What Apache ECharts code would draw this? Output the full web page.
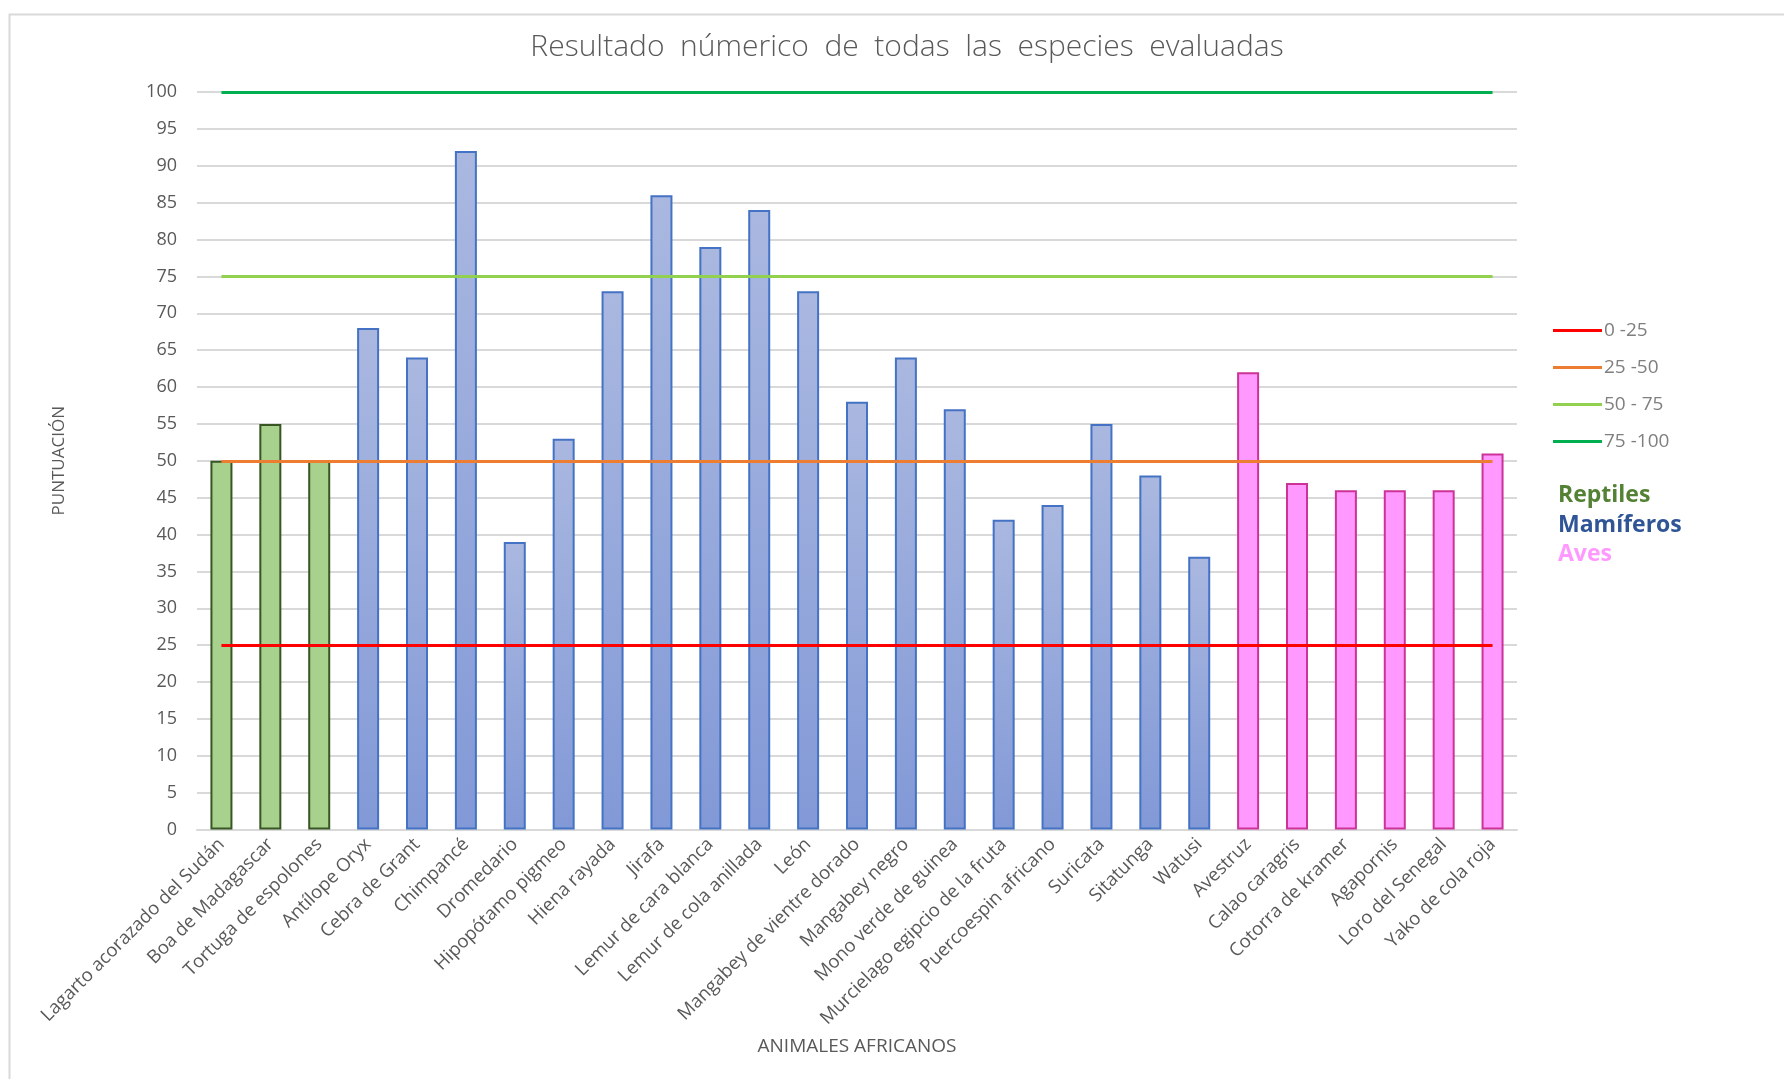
<!DOCTYPE html>
<html>
<head>
<meta charset="utf-8">
<script src="https://cdn.jsdelivr.net/npm/echarts@6/dist/echarts.min.js"></script>
<style>
  html, body { margin: 0; padding: 0; background: #fff; }
  #chart { width: 1784px; height: 1079px; }
</style>
</head>
<body>
<div id="chart"></div>
<script>
// Especies evaluadas y su puntuación
const especies = [
  'Lagarto acorazado del Sudán', 'Boa de Madagascar', 'Tortuga de espolones',
  'Antílope Oryx', 'Cebra de Grant', 'Chimpancé', 'Dromedario', 'Hipopótamo pigmeo',
  'Hiena rayada', 'Jirafa', 'Lemur de cara blanca', 'Lemur de cola anillada', 'León',
  'Mangabey de vientre dorado', 'Mangabey negro', 'Mono verde de guinea',
  'Murcielago egipcio de la fruta', 'Puercoespin africano', 'Suricata', 'Sitatunga',
  'Watusi', 'Avestruz', 'Calao caragris', 'Cotorra de kramer', 'Agapornis',
  'Loro del Senegal', 'Yako de cola roja'
];
const puntuacion = [
  50, 55, 50,
  68, 64, 92, 39, 53, 73, 86, 79, 84, 73, 58, 64, 57, 42, 44, 55, 48, 37,
  62, 47, 46, 46, 46, 51
];
const grupo = [
  'Reptiles', 'Reptiles', 'Reptiles',
  'Mamíferos', 'Mamíferos', 'Mamíferos', 'Mamíferos', 'Mamíferos', 'Mamíferos',
  'Mamíferos', 'Mamíferos', 'Mamíferos', 'Mamíferos', 'Mamíferos', 'Mamíferos',
  'Mamíferos', 'Mamíferos', 'Mamíferos', 'Mamíferos', 'Mamíferos', 'Mamíferos',
  'Aves', 'Aves', 'Aves', 'Aves', 'Aves', 'Aves'
];
// Rangos de referencia
const rangos = ['0 -25', '25 -50', '50 - 75', '75 -100'];
const limites = [25, 50, 75, 100];
const yTicks = { min: 0, max: 100, interval: 5 };

const estiloGrupo = {
  'Reptiles': {
    color: '#A9D18E', borderColor: '#375623'
  },
  'Mamíferos': {
    color: { type: 'linear', x: 0, y: 0, x2: 0, y2: 1,
      colorStops: [{ offset: 0, color: '#AAB8E0' }, { offset: 1, color: '#8299D7' }] },
    borderColor: '#4472C4'
  },
  'Aves': {
    color: '#FF99FF', borderColor: '#CC3399'
  }
};
const coloresRango = ['#FF0000', '#ED7D31', '#92D050', '#00B050'];
const coloresGrupo = { 'Reptiles': '#548235', 'Mamíferos': '#2F5597', 'Aves': '#FF99FF' };

const gris = '#595959';
const fuente = '"Open Sans", "Liberation Sans", sans-serif';

const barras = puntuacion.map((v, i) => ({
  value: v,
  itemStyle: Object.assign({ borderWidth: 2 }, estiloGrupo[grupo[i]])
}));

const lineas = rangos.map((nombre, k) => ({
  name: nombre,
  type: 'line',
  data: [],
  color: coloresRango[k],
  itemStyle: { color: coloresRango[k] },
  lineStyle: { color: coloresRango[k], width: 3 },
  markLine: {
    silent: true,
    symbol: 'none',
    label: { show: false },
    lineStyle: { color: coloresRango[k], width: 3, type: 'solid' },
    data: [[
      { coord: [especies[0], limites[k]] },
      { coord: [especies[especies.length - 1], limites[k]] }
    ]]
  },
  z: 5
}));

const nombresGrupo = ['Reptiles', 'Mamíferos', 'Aves'];
const textosGrupo = nombresGrupo.map((g, i) => ({
  type: 'text',
  left: 1558,
  top: 484 + i * 29.5,
  style: {
    text: g,
    fill: coloresGrupo[g],
    font: 'bold 23px ' + fuente
  }
}));

const chart = echarts.init(document.getElementById('chart'));
chart.setOption({
  animation: false,
  backgroundColor: '#fff',
  textStyle: { fontFamily: fuente },
  title: {
    text: 'Resultado  númerico  de  todas  las  especies  evaluadas',
    left: 902,
    top: 27,
    textAlign: 'center',
    textStyle: { fontSize: 30, fontWeight: 300, color: gris, fontFamily: fuente }
  },
  legend: {
    orient: 'vertical',
    left: 1548,
    top: 316,
    itemWidth: 49,
    itemHeight: 3,
    itemGap: 18,
    icon: 'rect',
    data: rangos,
    textStyle: { fontSize: 19, color: '#7F7F7F', padding: [0, 0, 0, -3] }
  },
  grid: { left: 197, right: 267, top: 92, bottom: 249.5 },
  xAxis: {
    type: 'category',
    data: especies,
    name: 'ANIMALES AFRICANOS',
    nameLocation: 'middle',
    nameGap: 208,
    nameTextStyle: { fontSize: 19, color: gris },
    axisLine: { lineStyle: { color: '#D9D9D9', width: 2 } },
    axisTick: { show: false },
    axisLabel: { rotate: 45, interval: 0, fontSize: 18.5, color: gris, margin: 12 }
  },
  yAxis: {
    type: 'value',
    min: yTicks.min,
    max: yTicks.max,
    interval: yTicks.interval,
    name: 'PUNTUACIÓN',
    nameLocation: 'middle',
    nameGap: 129,
    nameTextStyle: { fontSize: 17, color: gris },
    axisLine: { show: false },
    axisTick: { show: false },
    axisLabel: { fontSize: 18, color: gris, margin: 20 },
    splitLine: { lineStyle: { color: '#D9D9D9', width: 2 } }
  },
  graphic: [
    {
      type: 'rect',
      left: 7, top: 12,
      shape: { width: 1800, height: 1100 },
      style: { fill: 'none', stroke: '#D9D9D9', lineWidth: 2 },
      z: -10
    }
  ].concat(textosGrupo),
  series: [
    {
      type: 'bar',
      data: barras,
      barWidth: 22,
      z: 2
    }
  ].concat(lineas)
});
</script>
</body>
</html>
